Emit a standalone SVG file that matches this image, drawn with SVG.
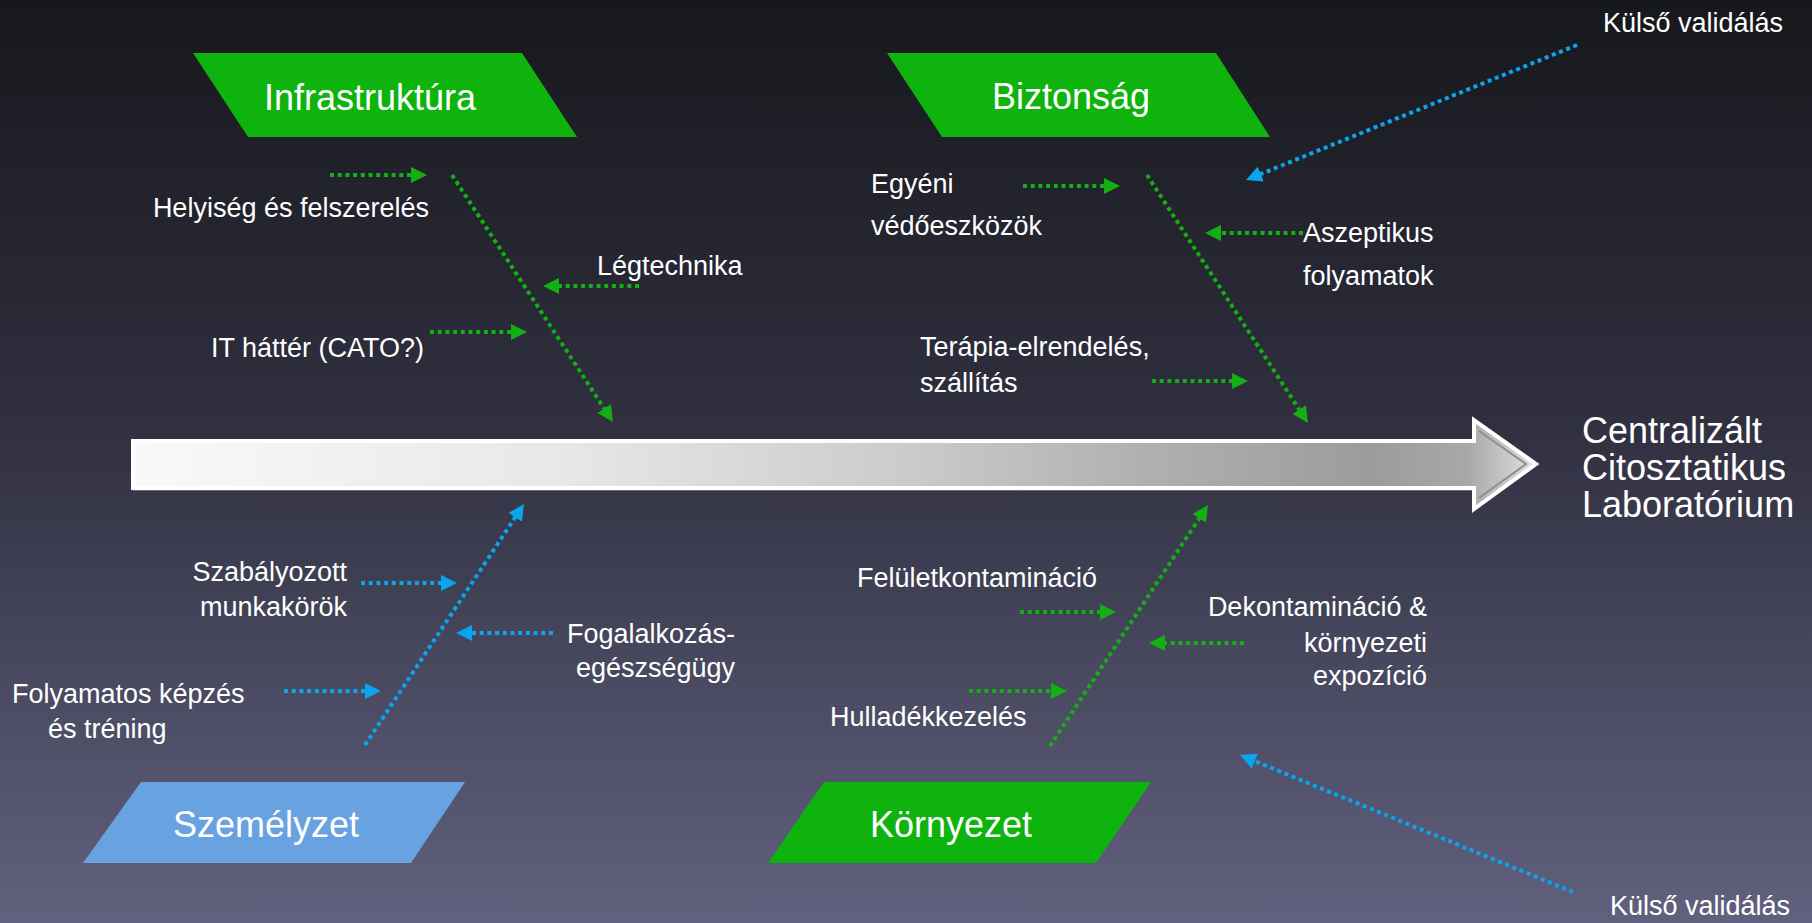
<svg xmlns="http://www.w3.org/2000/svg" width="1812" height="923" viewBox="0 0 1812 923">
<defs>
<linearGradient id="bg" x1="0" y1="0" x2="0" y2="1">
<stop offset="0" stop-color="#17181c"/>
<stop offset="0.45" stop-color="#2f2f3f"/>
<stop offset="1" stop-color="#61617f"/>
</linearGradient>
<linearGradient id="spine" gradientUnits="userSpaceOnUse" x1="133" y1="0" x2="1539" y2="0">
<stop offset="0" stop-color="#f9f9f9"/>
<stop offset="0.3" stop-color="#e8e8e8"/>
<stop offset="0.55" stop-color="#cbcbcb"/>
<stop offset="0.72" stop-color="#b0b0b0"/>
<stop offset="0.88" stop-color="#9c9c9c"/>
<stop offset="0.95" stop-color="#a8a8a8"/>
<stop offset="1" stop-color="#e4e4e4"/>
</linearGradient>
<marker id="ag" markerUnits="userSpaceOnUse" markerWidth="16" markerHeight="16" refX="4" refY="8" orient="auto">
<path d="M0,0 L16,8 L0,16 Z" fill="#12b012"/>
</marker>
<marker id="ab" markerUnits="userSpaceOnUse" markerWidth="16" markerHeight="16" refX="4" refY="8" orient="auto">
<path d="M0,0 L16,8 L0,16 Z" fill="#0aa5ec"/>
</marker>
<style>
.t{font-family:"Liberation Sans",Arial,Helvetica,sans-serif;fill:#ffffff;font-size:27px}
.h{font-family:"Liberation Sans",Arial,Helvetica,sans-serif;fill:#ffffff;font-size:36px}
.e{text-anchor:end}
.m{text-anchor:middle}
.g{stroke:#12b012;stroke-width:4;stroke-dasharray:4 3.7;fill:none;marker-end:url(#ag)}
.b{stroke:#0aa5ec;stroke-width:4;stroke-dasharray:4 3.7;fill:none;marker-end:url(#ab)}
.pg{fill:#0eb30e}
.pb{fill:#68a2e0}
</style>
</defs>
<rect x="0" y="0" width="1812" height="923" fill="url(#bg)"/>

<g id="spine-arrow">
<path d="M133,490 L1473,490 L1473,511" fill="none" stroke="#6e6e76" stroke-width="2"/>
<path d="M133,441 L1474,441 L1474,420 L1536,464 L1474,509 L1474,488 L133,488 Z" fill="url(#spine)" stroke="#ffffff" stroke-width="4" stroke-linejoin="miter"/>
<path d="M1479,431 L1526,464 L1479,498" fill="none" stroke="#8e8e8e" stroke-width="2"/>
</g>

<g id="node-title">
<text class="h" x="1582" y="443">Centralizált</text>
<text class="h" x="1582" y="480">Citosztatikus</text>
<text class="h" x="1582" y="517">Laboratórium</text>
</g>

<g id="node-infrastruktura">
<polygon class="pg" points="193,53 522,53 577,137 248,137"/>
<text class="h m" x="370" y="110">Infrastruktúra</text>
</g>
<g id="node-biztonsag">
<polygon class="pg" points="887,53 1216,53 1270,137 942,137"/>
<text class="h m" x="1071" y="109">Biztonság</text>
</g>
<g id="node-szemelyzet">
<polygon class="pb" points="141,782 465,782 411,863 83,863"/>
<text class="h m" x="266" y="837">Személyzet</text>
</g>
<g id="node-kornyezet">
<polygon class="pg" points="824,782 1151,782 1096,863 768,863"/>
<text class="h m" x="951" y="837">Környezet</text>
</g>

<g id="labels-infrastruktura">
<text class="t e" x="429" y="217">Helyiség és felszerelés</text>
<text class="t" x="597" y="275">Légtechnika</text>
<text class="t e" x="424" y="357">IT háttér (CATO?)</text>
</g>
<g id="labels-biztonsag">
<text class="t" x="871" y="193">Egyéni</text>
<text class="t" x="871" y="235">védőeszközök</text>
<text class="t" x="1303" y="242">Aszeptikus</text>
<text class="t" x="1303" y="285">folyamatok</text>
<text class="t" x="920" y="356">Terápia-elrendelés,</text>
<text class="t" x="920" y="392">szállítás</text>
</g>
<g id="labels-szemelyzet">
<text class="t e" x="347" y="581">Szabályozott</text>
<text class="t e" x="347" y="616">munkakörök</text>
<text class="t e" x="735" y="643">Fogalalkozás-</text>
<text class="t e" x="735" y="677">egészségügy</text>
<text class="t" x="12" y="703">Folyamatos képzés</text>
<text class="t" x="48" y="738">és tréning</text>
</g>
<g id="labels-kornyezet">
<text class="t" x="857" y="587">Felületkontamináció</text>
<text class="t e" x="1427" y="616">Dekontamináció &amp;</text>
<text class="t e" x="1427" y="652">környezeti</text>
<text class="t e" x="1427" y="685">expozíció</text>
<text class="t" x="830" y="726">Hulladékkezelés</text>
</g>
<g id="labels-validalas">
<text class="t e" x="1783" y="32">Külső validálás</text>
<text class="t e" x="1790" y="915">Külső validálás</text>
</g>

<g id="connectors">
<line class="g" x1="452" y1="175" x2="606.4" y2="411.9"/>
<line class="g" x1="330" y1="175" x2="415" y2="175"/>
<line class="g" x1="639" y1="286" x2="555" y2="286"/>
<line class="g" x1="430" y1="332" x2="515" y2="332"/>

<line class="g" x1="1147" y1="175" x2="1301.4" y2="412.9"/>
<line class="g" x1="1023" y1="186" x2="1108" y2="186"/>
<line class="g" x1="1303" y1="233" x2="1217" y2="233"/>
<line class="g" x1="1152" y1="381" x2="1236" y2="381"/>

<line class="b" x1="365" y1="745" x2="517.4" y2="514"/>
<line class="b" x1="361" y1="583" x2="445" y2="583"/>
<line class="b" x1="553" y1="633" x2="468" y2="633"/>
<line class="b" x1="284" y1="691" x2="369" y2="691"/>

<line class="g" x1="1050" y1="746" x2="1201.4" y2="515"/>
<line class="g" x1="1020" y1="612" x2="1104" y2="612"/>
<line class="g" x1="1244" y1="643" x2="1161" y2="643"/>
<line class="g" x1="969" y1="691" x2="1055" y2="691"/>

<line class="b" x1="1577" y1="45" x2="1257.1" y2="175.5"/>
<line class="b" x1="1573" y1="892" x2="1251.1" y2="759.6"/>
</g>
</svg>
